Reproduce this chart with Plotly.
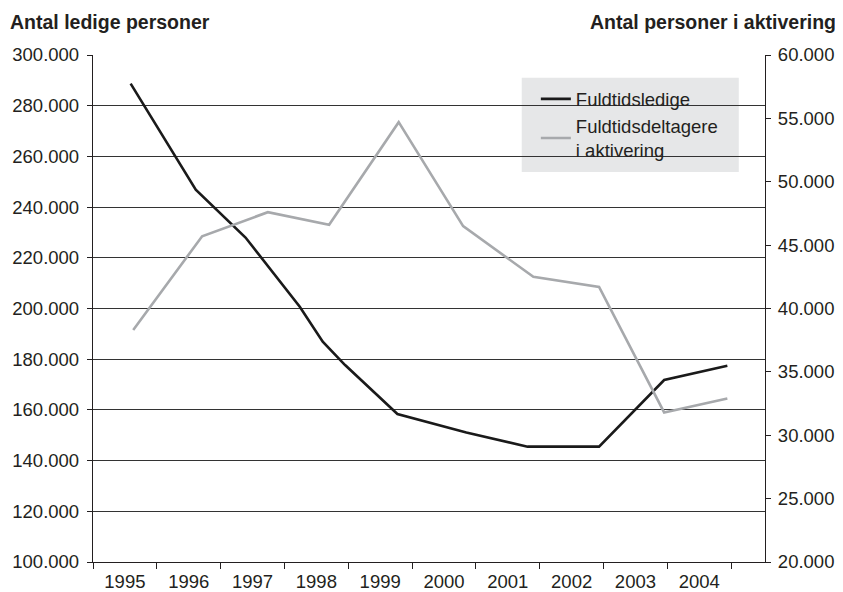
import plotly.graph_objects as go

# Data (decimal-year positions; label "1995" is centred on 1995.0)
years = [1995, 1996, 1997, 1998, 1999, 2000, 2001, 2002, 2003, 2004]
year_labels = [str(y) for y in years]

ledige_x = [1995.09, 1996.11, 1996.89, 1997.74, 1998.10, 1998.45, 1999.27,
            2000.35, 2001.31, 2002.43, 2003.45, 2004.44]
ledige_y = [288700, 246900, 228000, 200700, 186900, 177700, 158400,
            151100, 145500, 145500, 171800, 177400]

aktiv_x = [1995.13, 1996.21, 1997.24, 1998.20, 1999.29, 2000.30, 2001.40,
           2002.43, 2003.45, 2004.44]
aktiv_y = [38300, 45700, 47600, 46600, 54700, 46500, 42500, 41700, 31800, 32900]

left_title = "Antal ledige personer"
right_title = "Antal personer i aktivering"
name_ledige = "Fuldtidsledige"
name_aktiv = "Fuldtidsdeltagere<br>i aktivering"

FONT = "Liberation Sans, Arial, Helvetica, sans-serif"
INK = "#231f20"
TICK = 18.5

fig = go.Figure()
fig.add_trace(go.Scatter(x=ledige_x, y=ledige_y, mode="lines", name=name_ledige,
                         line=dict(color="#1a1a1a", width=2.6), yaxis="y"))
fig.add_trace(go.Scatter(x=aktiv_x, y=aktiv_y, mode="lines", name=name_aktiv,
                         line=dict(color="#a7a9ac", width=2.6), yaxis="y2"))

# legend box background
fig.add_shape(type="rect", xref="paper", yref="paper",
              x0=0.638, x1=0.961, y0=0.769, y1=0.955,
              fillcolor="#e6e7e8", line=dict(width=0), layer="between")

fig.update_layout(
    width=835, height=584,
    margin=dict(l=85, r=78, t=47, b=30, autoexpand=False),
    paper_bgcolor="white", plot_bgcolor="white",
    separators=",.",
    font=dict(family=FONT, size=TICK, color=INK),
    showlegend=True,
    legend=dict(x=0.659, y=0.950, xanchor="left", yanchor="top",
                bgcolor="rgba(0,0,0,0)", font=dict(size=TICK, color=INK),
                itemwidth=30, tracegroupgap=0),
    xaxis=dict(range=[1994.5, 2005.03], tickmode="array", tickvals=years,
               ticktext=year_labels, ticks="", showgrid=False, zeroline=False,
               showline=True, linecolor=INK, linewidth=1.3, automargin=False,
               ticklabelstandoff=3,
               tickfont=dict(size=TICK, color=INK),
               minor=dict(tickmode="linear", tick0=1994.5, dtick=1, ticks="outside",
                          ticklen=6, tickcolor=INK, tickwidth=1, showgrid=False)),
    yaxis=dict(range=[100000, 300000], dtick=20000, tickformat=",d",
               ticks="outside", ticklen=5, tickcolor=INK, tickwidth=1,
               ticklabelstandoff=4,
               showgrid=True, gridcolor="#333333", gridwidth=1, automargin=False,
               showline=True, linecolor=INK, linewidth=1.3, zeroline=False,
               tickfont=dict(size=TICK, color=INK)),
    yaxis2=dict(range=[20000, 60000], dtick=5000, tickformat=",d",
                overlaying="y", side="right", automargin=False,
                ticks="outside", ticklen=5, tickcolor=INK, tickwidth=1,
                ticklabelstandoff=3,
                showgrid=False, showline=True, linecolor=INK, linewidth=1.3,
                zeroline=False, tickfont=dict(size=TICK, color=INK)),
    annotations=[
        dict(text="<b>" + left_title + "</b>", xref="paper", yref="paper",
             x=-0.1265, y=1.0917, xanchor="left", yanchor="top", showarrow=False,
             font=dict(size=19.5, color=INK)),
        dict(text="<b>" + right_title + "</b>", xref="paper", yref="paper",
             x=1.108, y=1.0917, xanchor="right", yanchor="top", showarrow=False,
             font=dict(size=19.5, color=INK)),
    ],
)

fig.write_html("out.html")
